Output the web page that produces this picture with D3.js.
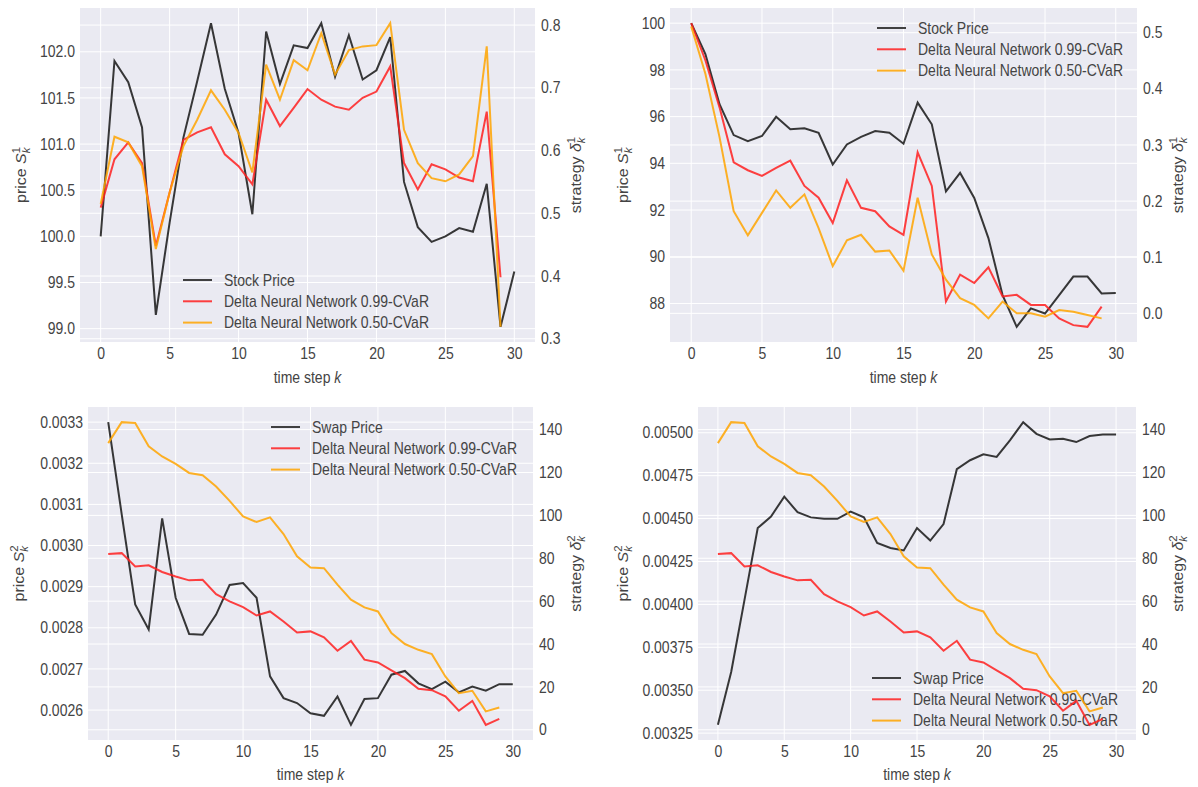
<!DOCTYPE html>
<html>
<head>
<meta charset="utf-8">
<script src="https://cdn.jsdelivr.net/npm/d3@7"></script>
<style>
  body { margin: 0; background: #fff; }
  text { font-family: "Liberation Sans", Arial, sans-serif; fill: #444; }
</style>
</head>
<body>
<svg id="chart" width="1198" height="787"></svg>
<script>
// time steps k
var timeSteps = [0,1,2,3,4,5,6,7,8,9,10,11,12,13,14,15,16,17,18,19,20,21,22,23,24,25,26,27,28,29,30];
var strategySteps = [0,1,2,3,4,5,6,7,8,9,10,11,12,13,14,15,16,17,18,19,20,21,22,23,24,25,26,27,28,29];

// top left: stock path 1
var stockPriceA = [100.0,101.90,101.67,101.18,99.15,100.15,101.07,101.68,102.31,101.60,101.12,100.24,102.22,101.65,102.07,102.04,102.31,101.73,102.18,101.70,101.80,102.16,100.59,100.10,99.94,100.00,100.09,100.05,100.57,99.02,99.62];
var deltaA99 = [0.509,0.586,0.613,0.580,0.448,0.533,0.617,0.629,0.637,0.594,0.575,0.546,0.681,0.639,0.668,0.698,0.681,0.670,0.665,0.684,0.694,0.734,0.580,0.538,0.578,0.570,0.557,0.551,0.662,0.398];
var deltaA50 = [0.515,0.622,0.613,0.575,0.443,0.533,0.607,0.649,0.696,0.665,0.628,0.565,0.737,0.681,0.744,0.728,0.787,0.721,0.760,0.766,0.768,0.803,0.633,0.580,0.556,0.551,0.562,0.591,0.766,0.319];

// top right: stock path 2
var stockPriceB = [100.0,98.68,96.53,95.21,94.95,95.17,95.99,95.46,95.50,95.31,93.95,94.81,95.13,95.38,95.31,94.84,96.60,95.67,92.80,93.59,92.52,90.80,88.36,87.00,87.79,87.57,88.36,89.15,89.15,88.43,88.45];
var deltaB99 = [0.517,0.451,0.367,0.269,0.255,0.245,0.259,0.272,0.227,0.206,0.161,0.237,0.188,0.182,0.155,0.140,0.287,0.227,0.021,0.069,0.054,0.082,0.030,0.033,0.015,0.015,-0.009,-0.021,-0.024,0.012];
var deltaB50 = [0.511,0.427,0.314,0.182,0.139,0.179,0.219,0.188,0.212,0.152,0.084,0.130,0.140,0.110,0.112,0.076,0.206,0.105,0.060,0.027,0.015,-0.009,0.021,0.000,0.000,-0.006,0.006,0.003,-0.003,-0.009];

// bottom: swap paths (same strategy in both)
var swapPriceC = [0.003300,0.003076,0.002857,0.002796,0.003066,0.002873,0.002785,0.002783,0.002832,0.002904,0.002909,0.002873,0.002682,0.002629,0.002617,0.002592,0.002586,0.002633,0.002564,0.002627,0.002629,0.002686,0.002695,0.002665,0.002651,0.002669,0.002643,0.002657,0.002647,0.002663,0.002663];
var swapPriceD = [0.003298,0.003606,0.004025,0.004445,0.004512,0.004628,0.004537,0.004507,0.004499,0.004499,0.004541,0.004507,0.004358,0.004329,0.004314,0.004445,0.004372,0.004468,0.004788,0.004840,0.004875,0.004859,0.004956,0.005062,0.004994,0.004961,0.004965,0.004946,0.004981,0.004990,0.004990];
var swapDelta99 = [82.0,82.4,76.2,76.7,73.6,71.5,69.7,70.0,63.3,59.9,57.2,53.3,55.2,50.5,45.4,45.9,43.1,36.9,41.5,32.7,31.4,27.7,24.1,19.1,18.5,15.6,8.9,13.5,2.3,5.1];
var swapDelta50 = [133.7,143.5,143.1,132.2,127.5,124.0,119.8,118.7,113.5,106.8,99.5,96.9,99.1,91.3,80.9,75.7,75.4,67.7,60.7,57.1,55.2,45.1,40.0,37.3,35.3,24.9,17.1,18.2,8.6,10.4];

// tick labels
var xTicks = [0,5,10,15,20,25,30];
var priceTicksA = [99.0,99.5,100.0,100.5,101.0,101.5,102.0];
var deltaTicksA = [0.3,0.4,0.5,0.6,0.7,0.8];
var priceTicksB = [88,90,92,94,96,98,100];
var deltaTicksB = [0.0,0.1,0.2,0.3,0.4,0.5];
var priceTicksC = [0.0026,0.0027,0.0028,0.0029,0.0030,0.0031,0.0032,0.0033];
var priceTicksD = [0.00325,0.00350,0.00375,0.00400,0.00425,0.00450,0.00475,0.00500];
var deltaTicksSwap = [0,20,40,60,80,100,120,140];

var svg = d3.select("#chart");
var stretch = 1.14;

function padDomain(arrs){
  var ext = d3.extent(d3.merge(arrs));
  var p = (ext[1] - ext[0]) * 0.05;
  return [ext[0] - p, ext[1] + p];
}

function drawPanel(p){
  var g = svg.append("g");

  var x = d3.scaleLinear().domain(padDomain([timeSteps])).range([p.left, p.right]);
  var yL = d3.scaleLinear().domain(padDomain([p.price])).range([p.bottom, p.top]);
  var yR = d3.scaleLinear().domain(padDomain([p.d99, p.d50])).range([p.bottom, p.top]);

  g.append("rect")
    .attr("x", p.left).attr("y", p.top)
    .attr("width", p.right - p.left).attr("height", p.bottom - p.top)
    .attr("fill", "#eaeaf2");

  // grids
  g.selectAll(".gx").data(xTicks).enter().append("line")
    .attr("x1", function(d){ return x(d); }).attr("x2", function(d){ return x(d); })
    .attr("y1", p.top).attr("y2", p.bottom)
    .attr("stroke", "#fff").attr("stroke-width", 1);
  g.selectAll(".gl").data(p.priceTicks).enter().append("line")
    .attr("x1", p.left).attr("x2", p.right)
    .attr("y1", function(d){ return yL(d); }).attr("y2", function(d){ return yL(d); })
    .attr("stroke", "#fff").attr("stroke-width", 1);
  g.selectAll(".gr").data(p.deltaTicks).enter().append("line")
    .attr("x1", p.left).attr("x2", p.right)
    .attr("y1", function(d){ return yR(d); }).attr("y2", function(d){ return yR(d); })
    .attr("stroke", "#fff").attr("stroke-width", 1);

  // axes
  var ax = g.append("g")
    .attr("transform", "translate(0," + p.bottom + ")")
    .call(d3.axisBottom(x).tickValues(xTicks).tickSize(0).tickPadding(5).tickFormat(d3.format("d")));
  var al = g.append("g")
    .attr("transform", "translate(" + p.left + ",0)")
    .call(d3.axisLeft(yL).tickValues(p.priceTicks).tickSize(0).tickPadding(5).tickFormat(d3.format(p.priceFmt)));
  var ar = g.append("g")
    .attr("transform", "translate(" + p.right + ",0)")
    .call(d3.axisRight(yR).tickValues(p.deltaTicks).tickSize(0).tickPadding(6).tickFormat(d3.format(p.deltaFmt)));
  [ax, al, ar].forEach(function(a){
    a.select(".domain").remove();
    a.selectAll("text")
      .attr("font-size", 14).attr("fill", "#444")
      .style("font-family", "Liberation Sans, Arial, sans-serif")
      .attr("transform", "scale(1," + stretch + ")");
  });

  var lineL = d3.line().x(function(d, i){ return x(timeSteps[i]); }).y(function(d){ return yL(d); });
  var lineR = d3.line().x(function(d, i){ return x(strategySteps[i]); }).y(function(d){ return yR(d); });

  g.append("path").datum(p.price).attr("d", lineL)
    .attr("fill", "none").attr("stroke", "#222").attr("stroke-opacity", 0.9).attr("stroke-width", 2);

  // legend (under the strategy lines)
  var legendItems = [
    {label: p.priceName, color: "#222"},
    {label: "Delta Neural Network 0.99-CVaR", color: "#ff2020"},
    {label: "Delta Neural Network 0.50-CVaR", color: "#ffa500"}
  ];
  var lg = g.append("g");
  legendItems.forEach(function(it, i){
    var yy = p.legendY + i * 21.3;
    lg.append("line")
      .attr("x1", p.legendX).attr("x2", p.legendX + 29)
      .attr("y1", yy).attr("y2", yy)
      .attr("stroke", it.color).attr("stroke-opacity", 0.85).attr("stroke-width", 2);
    lg.append("text")
      .attr("transform", "translate(" + (p.legendX + 41) + "," + yy + ") scale(1," + stretch + ")")
      .attr("dy", "0.36em")
      .attr("font-size", 14)
      .text(it.label);
  });

  g.append("path").datum(p.d99).attr("d", lineR)
    .attr("fill", "none").attr("stroke", "#ff2020").attr("stroke-opacity", 0.85).attr("stroke-width", 2);
  g.append("path").datum(p.d50).attr("d", lineR)
    .attr("fill", "none").attr("stroke", "#ffa500").attr("stroke-opacity", 0.85).attr("stroke-width", 2);

  // axis labels
  var midY = (p.top + p.bottom) / 2;
  var tl = g.append("text")
    .attr("transform", "translate(" + p.yLabelX + "," + midY + ") rotate(-90) scale(" + stretch + ",1)")
    .attr("text-anchor", "middle").attr("dy", "0.35em").attr("font-size", 14);
  tl.append("tspan").text("price ");
  tl.append("tspan").attr("font-style", "italic").text("S");
  tl.append("tspan").attr("font-style", "italic").attr("font-size", 10).attr("dy", 4).text("k");
  tl.append("tspan").attr("font-size", 10).attr("dx", -5).attr("dy", -10).text(p.idx);

  var tr = g.append("text")
    .attr("transform", "translate(" + p.yRightLabelX + "," + midY + ") rotate(-90) scale(" + stretch + ",1)")
    .attr("text-anchor", "middle").attr("dy", "0.35em").attr("font-size", 14);
  tr.append("tspan").text("strategy ");
  tr.append("tspan").attr("font-style", "italic").text("\u03b4");
  tr.append("tspan").attr("font-style", "italic").attr("font-size", 10).attr("dy", 4).text("k");
  tr.append("tspan").attr("font-size", 10).attr("dx", -5).attr("dy", -10).text(p.idx);

  var xl = g.append("text")
    .attr("transform", "translate(" + ((p.left + p.right) / 2) + "," + p.xLabelY + ") scale(1," + stretch + ")")
    .attr("text-anchor", "middle").attr("font-size", 14);
  xl.append("tspan").text("time step ");
  xl.append("tspan").attr("font-style", "italic").text("k");
}

drawPanel({
  left: 80, right: 535, top: 8, bottom: 342,
  price: stockPriceA, d99: deltaA99, d50: deltaA50,
  priceTicks: priceTicksA, deltaTicks: deltaTicksA, priceFmt: ".1f", deltaFmt: ".1f",
  priceName: "Stock Price", idx: "1",
  legendX: 183, legendY: 280,
  yLabelX: 21, yRightLabelX: 576, xLabelY: 383
});
drawPanel({
  left: 670, right: 1137, top: 8, bottom: 342,
  price: stockPriceB, d99: deltaB99, d50: deltaB50,
  priceTicks: priceTicksB, deltaTicks: deltaTicksB, priceFmt: "d", deltaFmt: ".1f",
  priceName: "Stock Price", idx: "1",
  legendX: 877, legendY: 28,
  yLabelX: 623, yRightLabelX: 1178, xLabelY: 383
});
drawPanel({
  left: 88, right: 533, top: 407, bottom: 740,
  price: swapPriceC, d99: swapDelta99, d50: swapDelta50,
  priceTicks: priceTicksC, deltaTicks: deltaTicksSwap, priceFmt: ".4f", deltaFmt: "d",
  priceName: "Swap Price", idx: "2",
  legendX: 271, legendY: 427,
  yLabelX: 19, yRightLabelX: 576, xLabelY: 780
});
drawPanel({
  left: 698, right: 1136, top: 407, bottom: 740,
  price: swapPriceD, d99: swapDelta99, d50: swapDelta50,
  priceTicks: priceTicksD, deltaTicks: deltaTicksSwap, priceFmt: ".5f", deltaFmt: "d",
  priceName: "Swap Price", idx: "2",
  legendX: 872, legendY: 678,
  yLabelX: 623, yRightLabelX: 1178, xLabelY: 780
});
</script>
</body>
</html>
